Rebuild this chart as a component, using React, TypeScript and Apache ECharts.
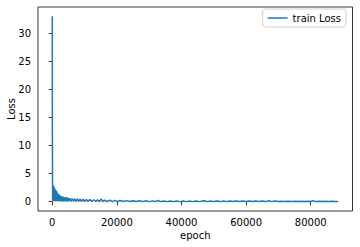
import React, { useEffect, useRef } from "react";
import * as echarts from "echarts";

const epochs: number[] = [
  0, 25, 50, 80, 110, 150, 190, 230, 270, 310, 350, 390, 430, 470, 510, 550, 590, 630, 670, 710,
  750, 800, 850, 900, 950, 1000, 1060, 1120, 1180, 1240, 1300, 1370, 1440, 1510, 1580, 1650, 1720,
  1800, 1880, 1960, 2040, 2120, 2200, 2300, 2400, 2500, 2600, 2700, 2800, 2950, 3100, 3250, 3400,
  3550, 3700, 3850, 4000, 4150, 4300, 4500, 4700, 4850, 5000,
  5400, 5800, 6200, 6600, 7000, 7400, 7800, 8200, 8600, 9000, 9500, 10000, 10500,
  11000, 11600, 12200, 12800, 13400, 14000, 14600, 15200, 15700, 16300, 17000, 17800, 18600, 19400,
  20200, 21000, 22000, 23000, 24000, 25000, 26000, 27000, 28000, 29000, 30000, 31000, 32000, 32800,
  33500, 34500, 35500, 36500, 37500, 38500, 39500, 40500, 41500, 42500, 43500, 44500, 45500, 46500,
  47200, 48000, 49000, 50000, 51000, 52000, 53000, 54000, 55000, 56000, 57000, 58000, 59000, 60000,
  61000, 62000, 63000, 64000, 65000, 66000, 67000, 68000, 69000, 70000, 71000, 72000, 73000, 74000,
  75000, 76000, 77000, 78000, 79000, 80000, 80600, 81500, 82500, 83500, 84500, 85500, 86500, 87500,
  88500,
];

const loss: number[] = [
  33.0, 12.6, 8.5, 3.3, 0.2, 3.0, 0.15, 2.8, 0.1, 2.9, 0.1, 2.6, 0.1, 2.7, 0.1, 2.4, 0.1, 2.5, 0.1, 2.2,
  0.1, 2.3, 0.1, 2.0, 0.1, 2.1, 0.1, 1.9, 0.1, 2.0, 0.1, 1.8, 0.1, 1.6, 0.08, 1.5, 0.08,
  1.4, 0.08, 1.3, 0.08, 1.25, 0.07, 1.15, 0.07, 1.05, 0.07, 1.0, 0.06, 0.95, 0.06, 0.9, 0.06,
  0.85, 0.06, 0.8, 0.06, 0.78, 0.05, 0.82, 0.05, 0.7, 0.05,
  0.62, 0.05, 0.58, 0.05, 0.52, 0.04, 0.5, 0.05, 0.46, 0.04, 0.44, 0.04, 0.42,
  0.04, 0.38, 0.04, 0.35, 0.03, 0.32, 0.03, 0.48, 0.03, 0.3, 0.03, 0.26, 0.03, 0.24,
  0.03, 0.22, 0.03, 0.2, 0.03, 0.18, 0.03, 0.17, 0.02, 0.16, 0.02, 0.15, 0.03, 0.24,
  0.02, 0.14, 0.02, 0.13, 0.02, 0.13, 0.02, 0.12, 0.02, 0.12, 0.02, 0.12, 0.02, 0.12,
  0.18, 0.02, 0.12, 0.02, 0.11, 0.02, 0.12, 0.02, 0.11, 0.02, 0.11, 0.02, 0.11, 0.02,
  0.11, 0.02, 0.11, 0.02, 0.11, 0.02, 0.16, 0.02, 0.11, 0.02, 0.1, 0.02, 0.1, 0.02,
  0.1, 0.02, 0.1, 0.02, 0.1, 0.02, 0.2, 0.02, 0.1, 0.02, 0.1, 0.02, 0.1, 0.02,
  0.04,
];

const xTicks: number[] = [0, 20000, 40000, 60000, 80000];
const yTicks: number[] = [0, 5, 10, 15, 20, 25, 30];

export default function App() {
  const ref = useRef<HTMLDivElement>(null);
  useEffect(() => {
    if (!ref.current) return;
    const chart = echarts.init(ref.current, null, { renderer: "svg" });
    const font = "DejaVu Sans";
    chart.setOption({
      animation: false,
      backgroundColor: "#fff",
      grid: {
        left: 38,
        right: 7.5,
        top: 7,
        bottom: 36,
        containLabel: false,
        outerBoundsMode: "none",
        show: true,
        borderColor: "#000",
        borderWidth: 0.8,
        backgroundColor: "transparent",
      },
      legend: {
        right: 14,
        top: 9,
        data: [{ name: "train Loss", icon: "rect" }],
        itemWidth: 20,
        itemHeight: 1.5,
        padding: [4, 5, 4, 5],
        borderColor: "#d0d0d0",
        borderWidth: 1,
        borderRadius: 3,
        textStyle: { fontFamily: font, fontSize: 10, color: "#000" },
      },
      xAxis: {
        type: "value",
        min: -4425,
        max: 92925,
        name: "epoch",
        nameLocation: "middle",
        nameGap: 19,
        nameMoveOverlap: false,
        nameTextStyle: { fontFamily: font, fontSize: 10, color: "#000", verticalAlign: "top" },
        axisLine: { show: false },
        splitLine: { show: false },
        axisTick: { show: true, length: 3.5, lineStyle: { color: "#000", width: 0.8 }, customValues: xTicks },
        axisLabel: {
          fontFamily: font,
          fontSize: 10,
          color: "#000",
          margin: 6,
          customValues: xTicks,
          formatter: (v: number) => String(v),
        },
      },
      yAxis: {
        type: "value",
        min: -1.65,
        max: 34.65,
        name: "Loss",
        nameLocation: "middle",
        nameGap: 22,
        nameMoveOverlap: false,
        nameTextStyle: { fontFamily: font, fontSize: 10, color: "#000" },
        axisLine: { show: false },
        splitLine: { show: false },
        axisTick: { show: true, length: 3.5, lineStyle: { color: "#000", width: 0.8 }, customValues: yTicks },
        axisLabel: {
          fontFamily: font,
          fontSize: 10,
          color: "#000",
          margin: 7,
          customValues: yTicks,
          formatter: (v: number) => String(v),
        },
      },
      series: [
        {
          name: "train Loss",
          type: "line",
          data: epochs.map((e, i) => [e, loss[i]]),
          showSymbol: false,
          symbol: "none",
          color: "#1f77b4",
          lineStyle: { color: "#1f77b4", width: 1.5 },
        },
      ],
    });
    return () => chart.dispose();
  }, []);
  return (
    <div
      ref={ref}
      style={{ position: "fixed", left: 0, top: 0, width: 360, height: 247 }}
    />
  );
}
